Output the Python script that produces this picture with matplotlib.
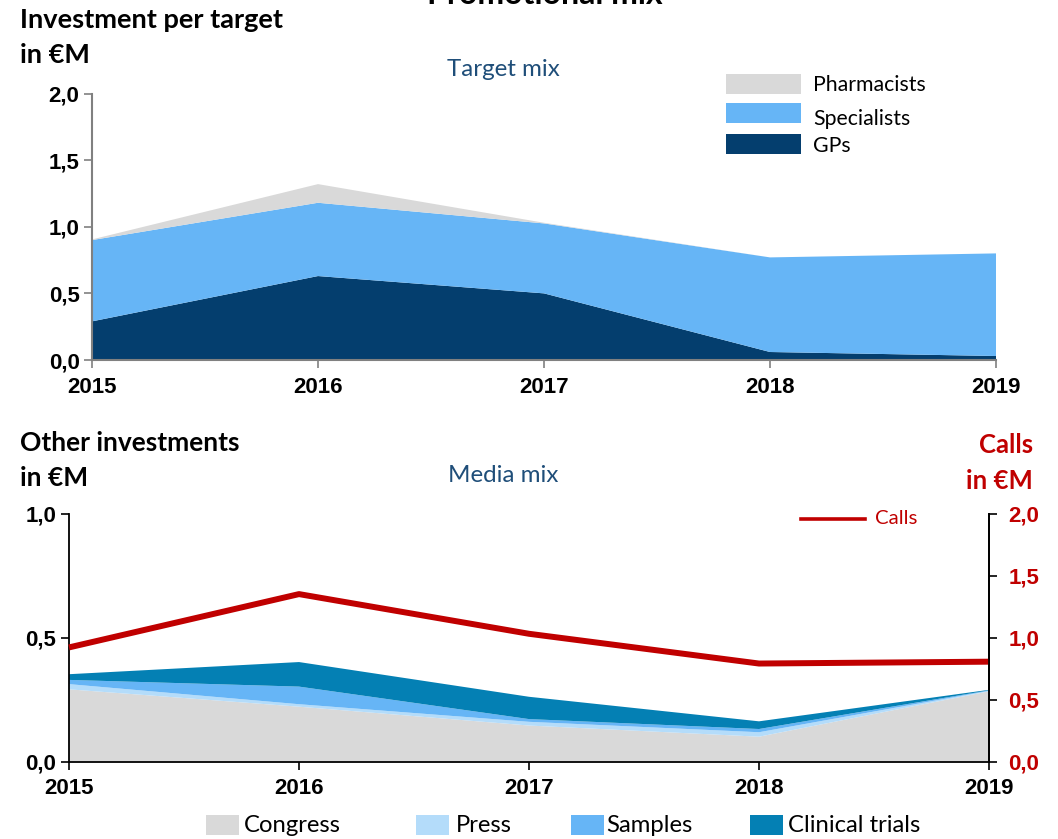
import matplotlib
matplotlib.use("Agg")
import matplotlib.pyplot as plt
from matplotlib.patches import Rectangle
from matplotlib.lines import Line2D

# ---------------- data ----------------
years = [2015, 2016, 2017, 2018, 2019]
year_labels = ["2015", "2016", "2017", "2018", "2019"]

# Target mix (stack order bottom -> top)
gps = [0.29, 0.63, 0.50, 0.06, 0.03]
specialists = [0.61, 0.55, 0.525, 0.71, 0.77]
pharmacists = [0.005, 0.14, 0.005, 0.0, 0.0]

# Media mix (stack order bottom -> top)
congress = [0.291, 0.221, 0.145, 0.100, 0.283]
press = [0.021, 0.010, 0.015, 0.018, 0.002]
samples = [0.017, 0.071, 0.011, 0.013, 0.002]
clinical_trials = [0.023, 0.099, 0.090, 0.031, 0.002]

# Calls (right axis)
calls = [0.92, 1.35, 1.03, 0.79, 0.805]

top_ticks = [0.0, 0.5, 1.0, 1.5, 2.0]
top_ticklabels = ["0,0", "0,5", "1,0", "1,5", "2,0"]
left_ticks = [0.0, 0.5, 1.0]
left_ticklabels = ["0,0", "0,5", "1,0"]
right_ticks = [0.0, 0.5, 1.0, 1.5, 2.0]
right_ticklabels = ["0,0", "0,5", "1,0", "1,5", "2,0"]

# ---------------- style ----------------
C_PHARM = "#D9D9D9"
C_SPEC = "#66B5F6"
C_GP = "#043E6E"
C_CONG = "#D9D9D9"
C_PRESS = "#B4DCFA"
C_SAMP = "#66B5F6"
C_CLIN = "#0480B4"
C_RED = "#C00000"
C_NAVY = "#1F4E79"

TXT = "Lato"
TICKF = "Liberation Sans"
TICKSZ = 16

W, H = 1058, 839
fig = plt.figure(figsize=(W / 100, H / 100), dpi=100)


def fx(px):
    return px / W


def fy(py):
    return 1 - py / H


# ---------------- top chart ----------------
ax1 = fig.add_axes([fx(92), fy(360), fx(996) - fx(92), fy(93.5) - fy(360)])
ax1.stackplot(years, gps, specialists, pharmacists,
              colors=[C_GP, C_SPEC, C_PHARM], linewidth=0)
ax1.set_xlim(2015, 2019)
ax1.set_ylim(0, 2.0)
ax1.set_yticks(top_ticks)
ax1.set_yticklabels(top_ticklabels)
ax1.set_xticks(years)
ax1.set_xticklabels(year_labels)
for s in ["top", "right"]:
    ax1.spines[s].set_visible(False)
for s in ["left", "bottom"]:
    ax1.spines[s].set_color("#808080")
    ax1.spines[s].set_linewidth(1.5)
ax1.tick_params(axis="both", direction="out", color="#808080", width=1.2, length=6)
ax1.tick_params(axis="y", pad=3)
ax1.tick_params(axis="x", pad=6)
for lab in ax1.get_xticklabels() + ax1.get_yticklabels():
    lab.set_fontfamily(TICKF)
    lab.set_fontweight("bold")
    lab.set_fontsize(TICKSZ)

# ---------------- bottom chart ----------------
ax2 = fig.add_axes([fx(69), fy(761.5), fx(989) - fx(69), fy(513.5) - fy(761.5)])
ax2.stackplot(years, congress, press, samples, clinical_trials,
              colors=[C_CONG, C_PRESS, C_SAMP, C_CLIN], linewidth=0)
ax2.set_xlim(2015, 2019)
ax2.set_ylim(0, 1.0)
ax2.set_yticks(left_ticks)
ax2.set_yticklabels(left_ticklabels)
ax2.set_xticks(years)
ax2.set_xticklabels(year_labels)
ax2.spines["top"].set_visible(False)
for s in ["left", "bottom", "right"]:
    ax2.spines[s].set_color("black")
    ax2.spines[s].set_linewidth(1.3)
ax2.tick_params(axis="both", direction="out", color="black", width=1.2, length=6)
ax2.tick_params(axis="y", pad=3)
ax2.tick_params(axis="x", pad=6)
for lab in ax2.get_xticklabels() + ax2.get_yticklabels():
    lab.set_fontfamily(TICKF)
    lab.set_fontweight("bold")
    lab.set_fontsize(TICKSZ)

ax3 = ax2.twinx()
ax3.plot(years, calls, color=C_RED, lw=4.3, solid_capstyle="butt", clip_on=False)
ax3.set_ylim(0, 2.0)
ax3.set_xlim(2015, 2019)
ax3.set_yticks(right_ticks)
ax3.set_yticklabels(right_ticklabels)
ax3.spines["top"].set_visible(False)
ax3.spines["left"].set_visible(False)
ax3.spines["bottom"].set_visible(False)
ax3.spines["right"].set_color("black")
ax3.spines["right"].set_linewidth(1.3)
ax3.tick_params(axis="y", direction="out", color="black", width=1.2, length=6, pad=8)
for lab in ax3.get_yticklabels():
    lab.set_fontfamily(TICKF)
    lab.set_fontweight("bold")
    lab.set_fontsize(TICKSZ)
    lab.set_color(C_RED)

# ---------------- texts ----------------
fig.text(fx(545), fy(4.5), "Promotional mix", family=TXT, weight="bold",
         fontsize=23, ha="center", va="baseline")

fig.text(fx(20), fy(20), "Investment per target", family=TXT, weight="bold",
         fontsize=19.5, ha="left", va="center")
fig.text(fx(20), fy(55), "in €M", family=TXT, weight="bold",
         fontsize=19.5, ha="left", va="center")
fig.text(fx(503), fy(70), "Target mix", family=TXT, fontsize=17.4,
         color=C_NAVY, ha="center", va="center")

fig.text(fx(20), fy(443), "Other investments", family=TXT, weight="bold",
         fontsize=19, ha="left", va="center")
fig.text(fx(20), fy(478), "in €M", family=TXT, weight="bold",
         fontsize=19, ha="left", va="center")
fig.text(fx(503), fy(475), "Media mix", family=TXT, fontsize=17.4,
         color=C_NAVY, ha="center", va="center")
fig.text(fx(1033), fy(445), "Calls", family=TXT, weight="bold",
         fontsize=18.5, ha="right", va="center", color=C_RED)
fig.text(fx(1033), fy(481), "in €M", family=TXT, weight="bold",
         fontsize=18.5, ha="right", va="center", color=C_RED)

# ---------------- top legend ----------------
top_leg = [("Pharmacists", C_PHARM, 74, 85), ("Specialists", C_SPEC, 103, 119),
           ("GPs", C_GP, 134, 146)]
for name, col, ptop, ty in top_leg:
    fig.patches.append(Rectangle((fx(726), fy(ptop + 20)), fx(801) - fx(726),
                                 fy(ptop) - fy(ptop + 20), transform=fig.transFigure,
                                 facecolor=col, edgecolor="none"))
    fig.text(fx(813), fy(ty), name, family=TXT, fontsize=15.3, ha="left", va="center")

# Calls legend
fig.lines.append(Line2D([fx(801), fx(865)], [fy(519), fy(519)], transform=fig.transFigure,
                        color=C_RED, lw=2.6))
fig.text(fx(875), fy(518), "Calls", family=TXT, fontsize=14.7, color=C_RED,
         ha="left", va="center")

# ---------------- bottom legend ----------------
bot_leg = [("Congress", C_CONG, 205.5, 244), ("Press", C_PRESS, 416, 455.5),
           ("Samples", C_SAMP, 571, 606.5), ("Clinical trials", C_CLIN, 750.5, 788)]
for name, col, px, tx in bot_leg:
    fig.patches.append(Rectangle((fx(px), fy(834.5)), fx(33), fy(815) - fy(834.5),
                                 transform=fig.transFigure, facecolor=col, edgecolor="none"))
    fig.text(fx(tx), fy(826), name, family=TXT, fontsize=17.2, ha="left", va="center")

fig.savefig("out.png", dpi=100)
